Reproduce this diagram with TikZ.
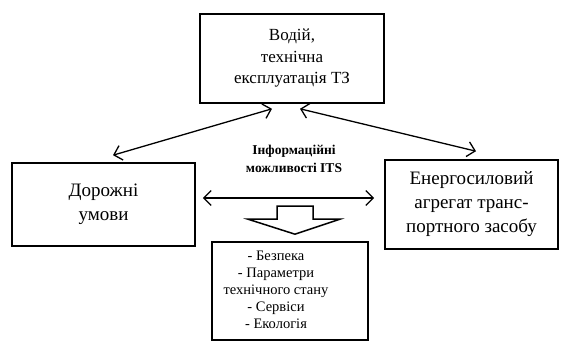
\documentclass[tikz,border=0pt]{standalone}
\usepackage{fontspec}
\setmainfont{Liberation Serif}
\usetikzlibrary{arrows.meta}

\begin{document}
\begin{tikzpicture}[x=1pt, y=-1pt, font=\fontsize{19}{24}\selectfont,
  blk/.style={draw, line width=1.6pt, align=center, inner sep=2pt},
  dbl/.style={{Straight Barb[length=7.5pt,width=15pt]}-{Straight Barb[length=7.5pt,width=15pt]}, line width=1.3pt}]
  \useasboundingbox (0,0) rectangle (568,345);
  \node[blk, minimum width=184pt, minimum height=89pt, font=\fontsize{17}{21.5}\selectfont] (driver) at (292,58.5) {Водій,\\технічна\\експлуатація ТЗ};
  \node[blk, minimum width=183pt, minimum height=83pt] (road) at (103.5,204.5) {Дорожні\\умови};
  \node[blk, minimum width=173pt, minimum height=89pt] (engine) at (471.5,204.5) {Енергосиловий\\агрегат транс-\\портного засобу};
  \node[blk, minimum width=156pt, minimum height=98pt, font=\fontsize{14.5}{17.2}\selectfont] (info) at (290,291)
    {\begin{tabular}{@{}c@{}}- Безпека\\- Параметри\\технічного стану\\- Сервіси\\- Екологія\end{tabular}\hspace{28pt}};
  \node[align=center, font=\fontsize{13.5}{17.5}\selectfont\bfseries] (its) at (294,159) {Інформаційні\\можливості ITS};
  \draw[dbl] ([xshift=-20pt,yshift=-5pt]driver.south) -- ([xshift=9.5pt,yshift=7pt]road.north);
  \draw[dbl] ([xshift=8pt,yshift=-5pt]driver.south) -- ([xshift=4.5pt,yshift=8pt]engine.north);
  \draw[dbl] ([xshift=7pt,yshift=6.5pt]road.east) -- ([xshift=-10pt,yshift=6.5pt]engine.west);
  % hollow arrow down to the list
  \coordinate (tip) at ([xshift=5pt,yshift=7pt]info.north);
  \draw[line width=1.5pt, line join=miter] (tip) -- ++(-47,-15) -- ++(29,0) -- ++(0,-13) -- ++(36,0)
    -- ++(0,13) -- ++(27,0) -- cycle;
\end{tikzpicture}
\end{document}
